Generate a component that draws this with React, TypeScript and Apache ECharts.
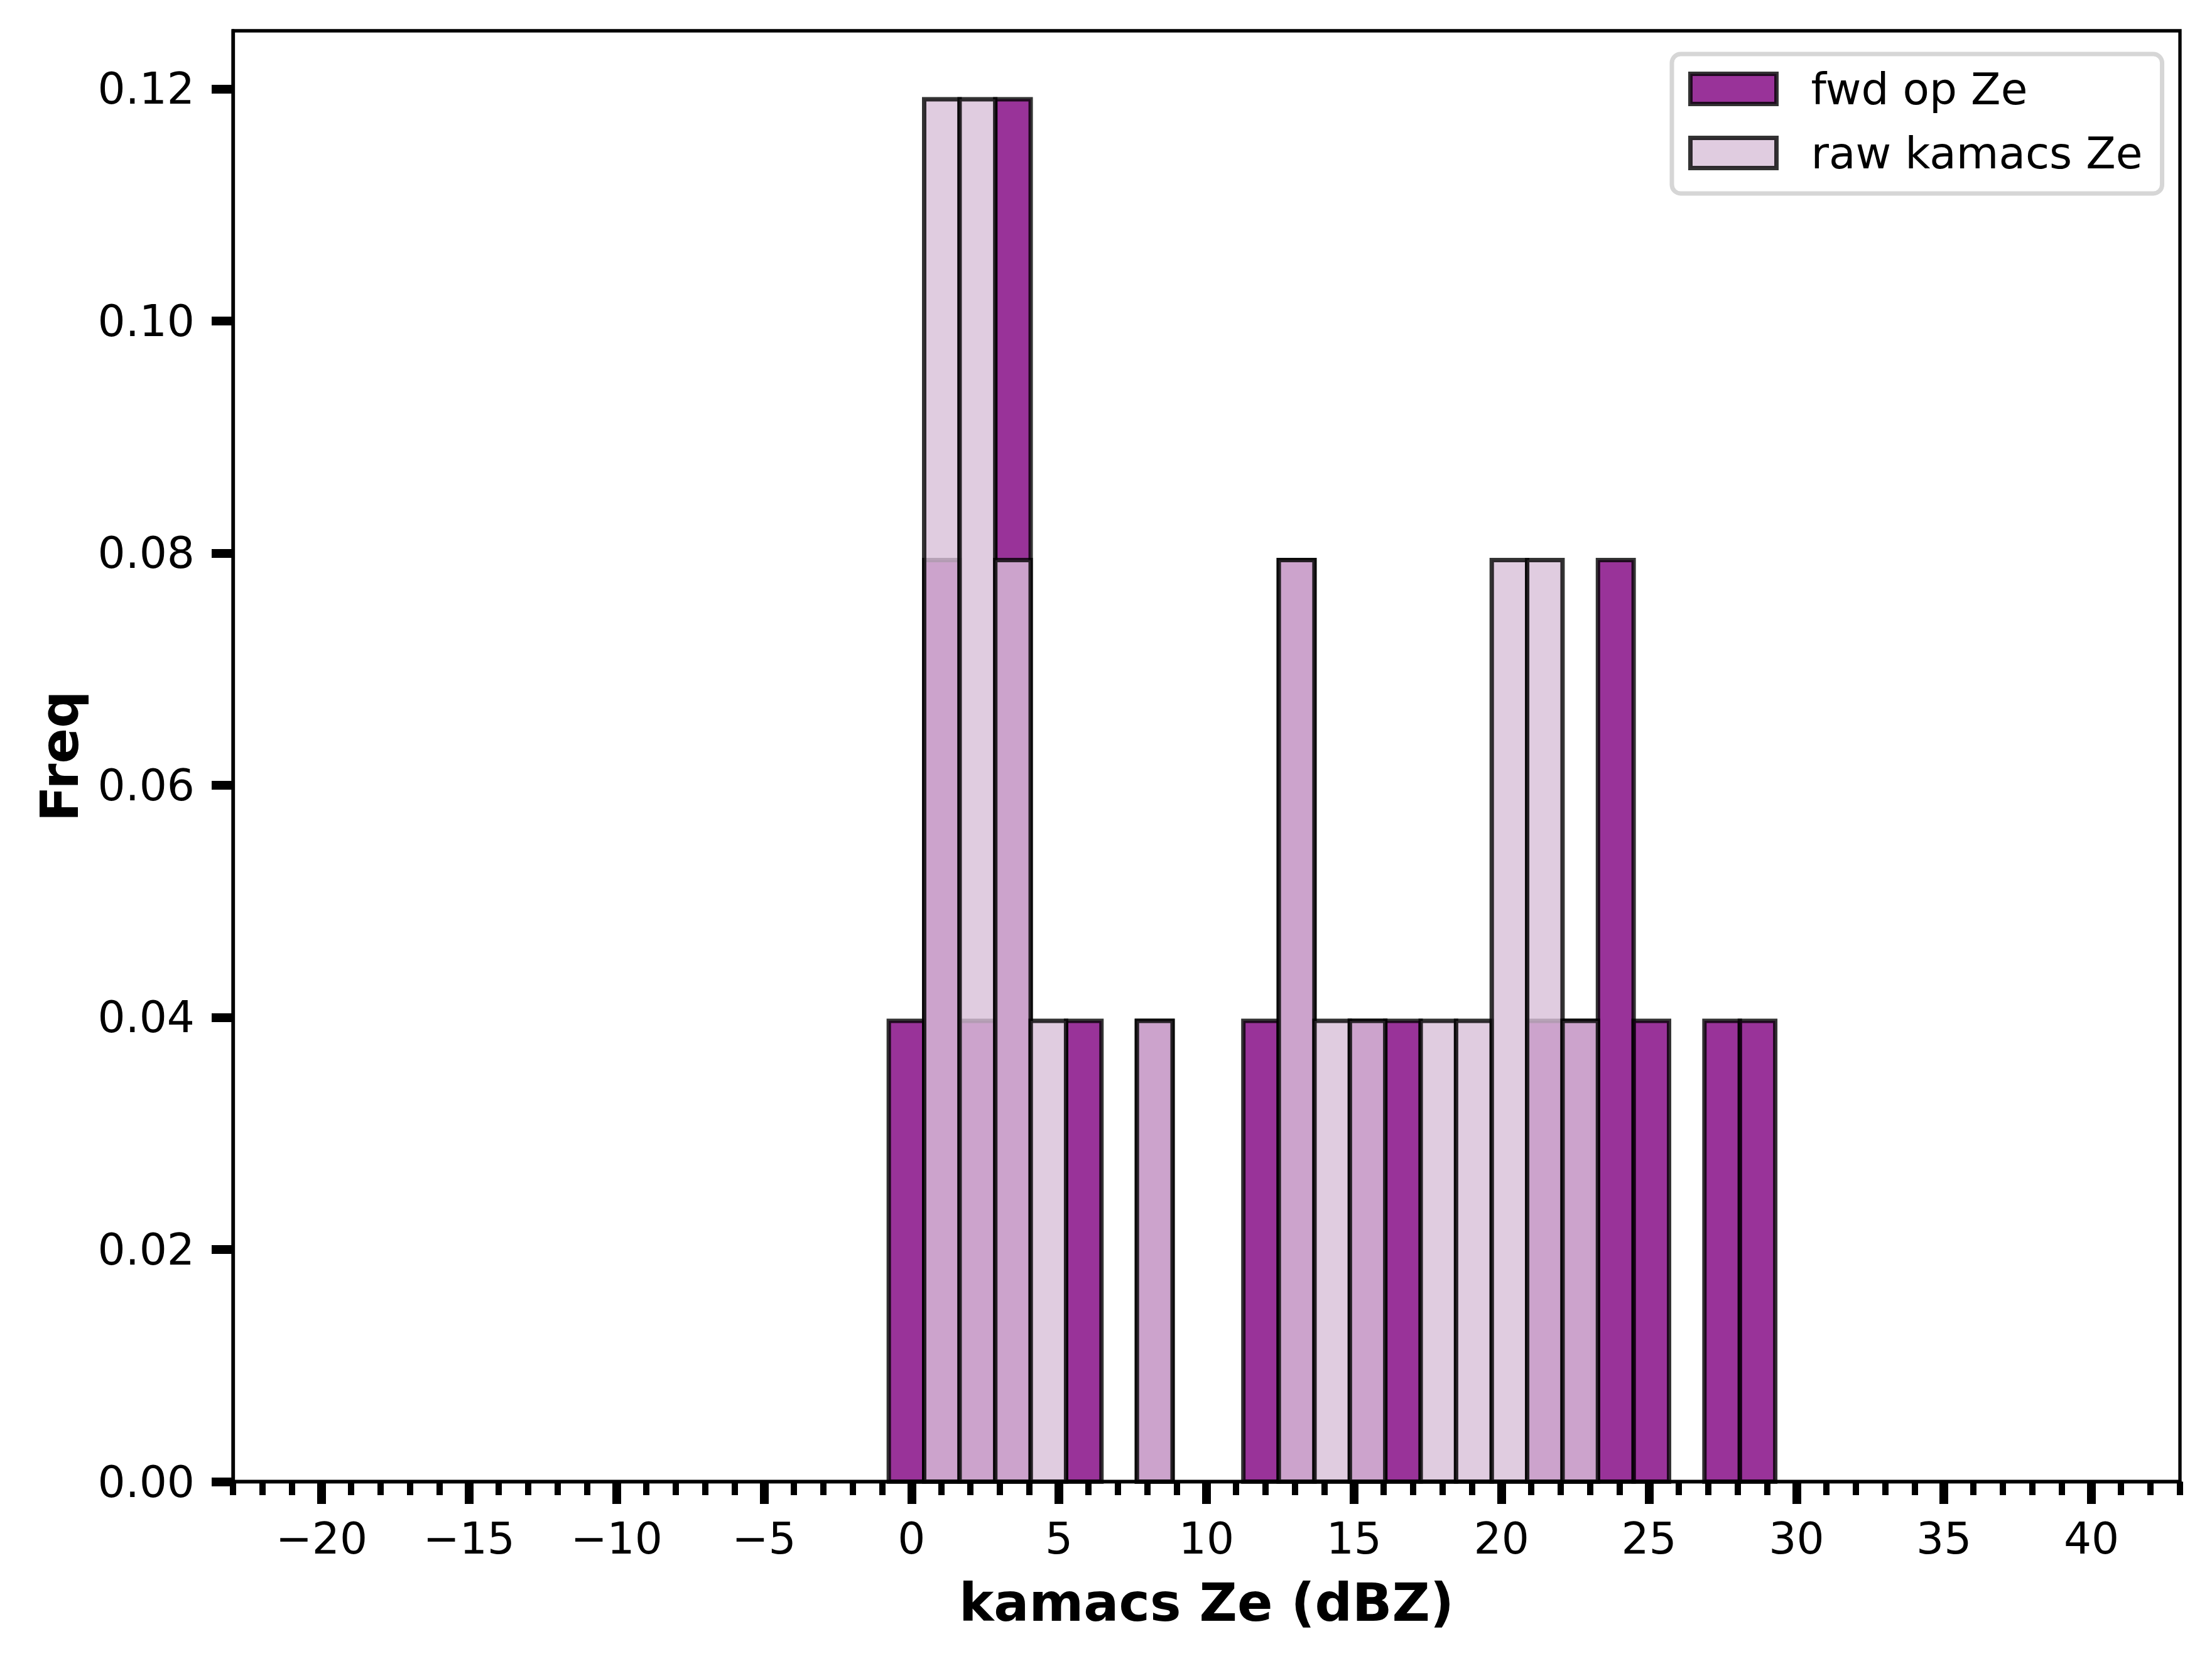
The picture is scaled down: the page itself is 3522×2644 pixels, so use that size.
import React, { useEffect, useRef } from 'react';
import * as echarts from 'echarts';

// Histogram bin edges (dBZ), shared by both histograms
const binEdges = [
  -0.77, 0.43, 1.63, 2.84, 4.04, 5.24, 6.44, 7.64, 8.85, 10.05, 11.25, 12.45, 13.66,
  14.86, 16.06, 17.26, 18.46, 19.67, 20.87, 22.07, 23.27, 24.48, 25.68, 26.88, 28.08, 29.28,
];

// Frequencies per bin
const fwdOpZe = [
  0.0397, 0.0794, 0.0397, 0.1191, 0, 0.0397, 0, 0.0397, 0, 0, 0.0397, 0.0794, 0,
  0.0397, 0.0397, 0, 0, 0, 0.0397, 0.0397, 0.0794, 0.0397, 0, 0.0397, 0.0397,
];
const rawKamacsZe = [
  0, 0.1191, 0.1191, 0.0794, 0.0397, 0, 0, 0.0397, 0, 0, 0, 0.0794, 0.0397,
  0.0397, 0, 0.0397, 0.0397, 0.0794, 0.0794, 0.0397, 0, 0, 0, 0, 0,
];

const seriesNames = ['fwd op Ze', 'raw kamacs Ze'];
const xMajorTicks = [-20, -15, -10, -5, 0, 5, 10, 15, 20, 25, 30, 35, 40];
const yTicks = [0, 0.02, 0.04, 0.06, 0.08, 0.1, 0.12];
const xRange = [-23, 43];
const yRange = [0, 0.125];

const FONT = 'DejaVu Sans';
const FWD_FILL = 'rgba(128,0,128,0.8)';
const RAW_FILL = 'rgba(216,191,216,0.8)';
const EDGE = 'rgba(0,0,0,0.8)';

export default function App() {
  const ref = useRef<HTMLDivElement>(null);

  useEffect(() => {
    document.body.style.margin = '0';
    const chart = echarts.init(ref.current as HTMLDivElement, null, { renderer: 'svg' });

    const toBars = (vals: number[]) =>
      vals
        .map((v, i) => [binEdges[i], binEdges[i + 1], v])
        .filter((d) => d[2] > 0);

    const makeRender = (fill: string) => (params: any, api: any) => {
      const x0 = api.value(0);
      const x1 = api.value(1);
      const h = api.value(2);
      const p0 = api.coord([x0, h]);
      const p1 = api.coord([x1, 0]);
      return {
        type: 'rect',
        shape: { x: p0[0], y: p0[1], width: p1[0] - p0[0], height: p1[1] - p0[1] },
        style: { fill, stroke: EDGE, lineWidth: 7 },
      };
    };

    const option: any = {
      animation: false,
      backgroundColor: '#fff',
      textStyle: { fontFamily: FONT },
      grid: {
        left: 371,
        right: 51,
        top: 49,
        bottom: 285.5,
        show: true,
        borderColor: '#000',
        borderWidth: 5.3,
        backgroundColor: 'transparent',
      },
      legend: {
        left: 2662,
        top: 86,
        orient: 'vertical',
        padding: [21, 31, 30, 26],
        itemGap: 33,
        itemWidth: 137,
        itemHeight: 48,
        backgroundColor: '#fff',
        borderColor: '#d6d6d6',
        borderWidth: 7,
        borderRadius: 14,
        textStyle: {
          fontFamily: FONT,
          fontSize: 69.4,
          color: '#000',
          lineHeight: 48,
          padding: [0, 0, 0, 50],
        },
        data: [
          { name: seriesNames[0], icon: 'rect', itemStyle: { color: FWD_FILL, borderColor: EDGE, borderWidth: 7 } },
          { name: seriesNames[1], icon: 'rect', itemStyle: { color: RAW_FILL, borderColor: EDGE, borderWidth: 7 } },
        ],
      },
      xAxis: [
        {
          type: 'value',
          min: xRange[0],
          max: xRange[1],
          interval: 1,
          position: 'bottom',
          z: 5,
          axisLine: { show: false },
          axisTick: { show: true, length: 21.5, lineStyle: { color: '#000', width: 10 } },
          axisLabel: { show: false },
          splitLine: { show: false },
        },
        {
          type: 'value',
          min: xRange[0],
          max: xRange[1],
          position: 'bottom',
          z: 10,
          axisLine: { show: true, onZero: false, lineStyle: { color: '#000', width: 5.3 } },
          axisTick: {
            show: true,
            customValues: xMajorTicks,
            length: 35.5,
            lineStyle: { color: '#000', width: 14 },
          },
          axisLabel: {
            show: true,
            customValues: xMajorTicks,
            margin: 56,
            fontFamily: FONT,
            fontSize: 69.4,
            color: '#000',
            formatter: (v: number) => String(v).replace('-', '\u2212'),
          },
          splitLine: { show: false },
          name: 'kamacs Ze (dBZ)',
          nameLocation: 'middle',
          nameGap: 151,
          nameTextStyle: { fontFamily: FONT, fontSize: 83.3, fontWeight: 'bold', color: '#000' },
        },
      ],
      yAxis: {
        type: 'value',
        min: yRange[0],
        max: yRange[1],
        z: 10,
        axisLine: { show: true, onZero: false, lineStyle: { color: '#000', width: 5.3 } },
        axisTick: {
          show: true,
          customValues: yTicks,
          length: 34,
          lineStyle: { color: '#000', width: 14 },
        },
        axisLabel: {
          show: true,
          customValues: yTicks,
          margin: 61,
          fontFamily: FONT,
          fontSize: 69.4,
          color: '#000',
          formatter: (v: number) => v.toFixed(2),
        },
        splitLine: { show: false },
        name: 'Freq',
        nameLocation: 'middle',
        nameGap: 234,
        nameRotate: 90,
        nameTextStyle: { fontFamily: FONT, fontSize: 83.3, fontWeight: 'bold', color: '#000' },
      },
      series: [
        {
          name: seriesNames[0],
          type: 'custom',
          xAxisIndex: 0,
          yAxisIndex: 0,
          z: 2,
          renderItem: makeRender(FWD_FILL),
          itemStyle: { color: FWD_FILL, borderColor: EDGE, borderWidth: 7 },
          encode: { x: [0, 1], y: 2 },
          data: toBars(fwdOpZe),
        },
        {
          name: seriesNames[1],
          type: 'custom',
          xAxisIndex: 0,
          yAxisIndex: 0,
          z: 3,
          renderItem: makeRender(RAW_FILL),
          itemStyle: { color: RAW_FILL, borderColor: EDGE, borderWidth: 7 },
          encode: { x: [0, 1], y: 2 },
          data: toBars(rawKamacsZe),
        },
      ],
    };

    chart.setOption(option);
    return () => chart.dispose();
  }, []);

  return <div ref={ref} style={{ width: 3522, height: 2644 }} />;
}
